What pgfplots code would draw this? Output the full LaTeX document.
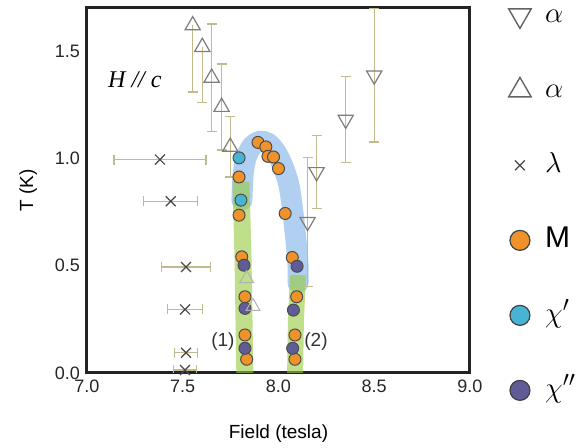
\documentclass[border=0pt]{standalone}
\usepackage{fontspec}
\setmainfont{Liberation Sans}
\newfontfamily\serifit{Liberation Serif}
\usepackage{pgfplots}
\pgfplotsset{compat=1.18}
\definecolor{ebar}{RGB}{192,186,140}
\definecolor{trigray}{RGB}{125,125,125}
\definecolor{xgray}{RGB}{70,70,75}
\definecolor{morange}{RGB}{240,146,42}
\definecolor{mcyan}{RGB}{72,180,212}
\definecolor{mpurple}{RGB}{96,92,152}
\definecolor{bandblue}{RGB}{100,160,225}
\definecolor{bandgreen}{RGB}{150,202,60}
\definecolor{axisc}{RGB}{35,35,35}
\begin{document}
\begin{tikzpicture}
\path[use as bounding box, clip] (-43.5pt,-37.5pt) rectangle (249.5pt,186.5pt);
\begin{axis}[
  at={(0pt,0pt)}, anchor=south west,
  scale only axis, width=191.5pt, height=182.5pt,
  xmin=7, xmax=9, ymin=0, ymax=1.70,
  axis line style={line width=1.5pt, draw=axisc},
  major tick length=0pt,
  xtick={7,7.5,8,8.5,9}, ytick={0,0.5,1,1.5},
  /pgf/number format/.cd, fixed, fixed zerofill, precision=1, assume math mode=true, /pgfplots/.cd,
  tick label style={font=\fontsize{9}{10}\selectfont, text=black!85},
  xlabel={Field (tesla)}, ylabel={T (K)},
  label style={font=\fontsize{9.5}{11}\selectfont},
  xlabel style={yshift=-9pt},
  ylabel style={yshift=2pt},
  legend style={at={(1.100,1.022)}, anchor=north west, draw=none, fill=none,
    inner sep=0pt, row sep=22.5pt, font=\fontsize{15}{17}\selectfont,
    nodes={inner sep=2pt, text height=9pt, text depth=2pt},
    /tikz/every odd column/.append style={column sep=5pt}},
  legend cell align=left,
]
% legend images
\addlegendimage{only marks, mark=triangle, mark size=6.5pt, mark options={rotate=180, draw=trigray!80!black, fill=white, line width=0.7pt}}
\addlegendentry{$\alpha$}
\addlegendimage{only marks, mark=triangle, mark size=6.5pt, mark options={draw=trigray!80!black, fill=white, line width=0.7pt}}
\addlegendentry{$\alpha$}
\addlegendimage{only marks, mark=x, mark size=3.5pt, mark options={draw=xgray, line width=0.6pt}}
\addlegendentry{$\lambda$}
\addlegendimage{only marks, mark=*, mark size=5pt, mark options={draw=black!75, fill=morange, line width=0.6pt}}
\addlegendentry{M}
\addlegendimage{only marks, mark=*, mark size=5pt, mark options={draw=black!75, fill=mcyan, line width=0.6pt}}
\addlegendentry{$\chi'$}
\addlegendimage{only marks, mark=*, mark size=5pt, mark options={draw=black!75, fill=mpurple, line width=0.6pt}}
\addlegendentry{$\chi''$}

% circles: M (orange)
\addplot[forget plot, only marks, mark=*, mark size=3pt, mark options={draw=black!70, fill=morange, line width=0.5pt}] coordinates {
(7.893,1.074) (7.934,1.053) (7.945,1.009) (7.974,1.006) (8.000,0.952)
(8.035,0.743) (8.072,0.538)
(7.794,0.913) (7.794,0.735) (7.808,0.541) (7.825,0.355) (7.825,0.177) (7.834,0.064)
(8.095,0.355) (8.086,0.177) (8.086,0.064)
};
% chi' (cyan)
\addplot[forget plot, only marks, mark=*, mark size=3pt, mark options={draw=black!70, fill=mcyan, line width=0.5pt}] coordinates {
(7.794,1.002) (7.804,0.805)
};
% chi'' (purple)
\addplot[forget plot, only marks, mark=*, mark size=3pt, mark options={draw=black!70, fill=mpurple, line width=0.5pt}] coordinates {
(8.097,0.497) (7.820,0.502) (7.825,0.301) (7.825,0.115) (8.078,0.293) (8.074,0.115)
};
% faint up triangles under band
\addplot[forget plot, only marks, mark=triangle, mark size=4pt, mark options={draw=trigray!60, fill=white, line width=0.5pt}] coordinates {
(7.834,0.44) (7.867,0.31)
};

% bands
\addplot[forget plot, no markers, smooth, line width=10.5pt, line cap=round, draw=bandblue, opacity=0.5] coordinates {
(7.809,0.805) (7.815,0.921) (7.830,1.000) (7.862,1.056) (7.903,1.079) (7.945,1.070)
(7.987,1.028) (8.023,0.963) (8.055,0.874) (8.076,0.744) (8.091,0.619) (8.102,0.502) (8.102,0.420)
};
\addplot[forget plot, no markers, line width=8.5pt, line cap=butt, draw=bandgreen, opacity=0.6] coordinates {
(7.804,0.890) (7.815,0.526) (7.825,-0.05)
};
\addplot[forget plot, no markers, line width=8pt, line cap=butt, draw=bandgreen, opacity=0.6] coordinates {
(8.102,0.456) (8.091,0.247) (8.086,-0.05)
};

% up triangles, lower bars only
\addplot[forget plot, only marks, mark=triangle, mark size=4.4pt, mark options={draw=trigray, fill=white, line width=0.6pt},
  error bars/.cd, y dir=minus, y explicit, error bar style={draw=ebar, line width=0.6pt},
  error mark options={rotate=90, draw=ebar, line width=0.6pt, mark size=2.5pt}]
  table[x=H, y=T, y error=e] {
H T e
7.552 1.619 0.31
7.602 1.518 0.26
};
% up triangles, both
\addplot[forget plot, only marks, mark=triangle, mark size=4.4pt, mark options={draw=trigray, fill=white, line width=0.6pt},
  error bars/.cd, y dir=both, y explicit, error bar style={draw=ebar, line width=0.6pt},
  error mark options={rotate=90, draw=ebar, line width=0.6pt, mark size=2.5pt}]
  table[x=H, y=T, y error=e] {
H T e
7.651 1.375 0.25
7.703 1.239 0.20
7.748 1.053 0.14
};
% down triangles
\addplot[forget plot, only marks, mark=triangle, mark size=4.4pt, mark options={rotate=180, draw=trigray, fill=white, line width=0.6pt},
  error bars/.cd, y dir=both, y explicit, error bar style={draw=ebar, line width=0.6pt},
  error mark options={rotate=90, draw=ebar, line width=0.6pt, mark size=2.5pt}]
  table[x=H, y=T, y error=e] {
H T e
8.152 0.704 0.30
8.199 0.936 0.17
8.351 1.180 0.20
8.500 1.386 0.31
};
% lambda crosses
\addplot[forget plot, only marks, mark=x, mark size=3.5pt, mark options={draw=xgray, line width=0.6pt},
  error bars/.cd, x dir=both, x explicit, error bar style={draw=ebar, line width=0.6pt},
  error mark options={rotate=90, draw=ebar, line width=0.6pt, mark size=2.5pt}]
  table[x=H, y=T, x error=e] {
H T e
7.381 0.994 0.24
7.437 0.800 0.14
7.517 0.494 0.13
7.512 0.296 0.09
7.517 0.094 0.06
7.512 0.014 0.06
};

\node[font=\serifit\itshape\fontsize{12}{14}\selectfont] at (axis cs:7.25,1.367) {H // c};
\node[font=\fontsize{9.5}{11}\selectfont, text=black!80] at (axis cs:7.71,0.144) {(1)};
\node[font=\fontsize{9.5}{11}\selectfont, text=black!80] at (axis cs:8.196,0.144) {(2)};
\end{axis}
\end{tikzpicture}
\end{document}
